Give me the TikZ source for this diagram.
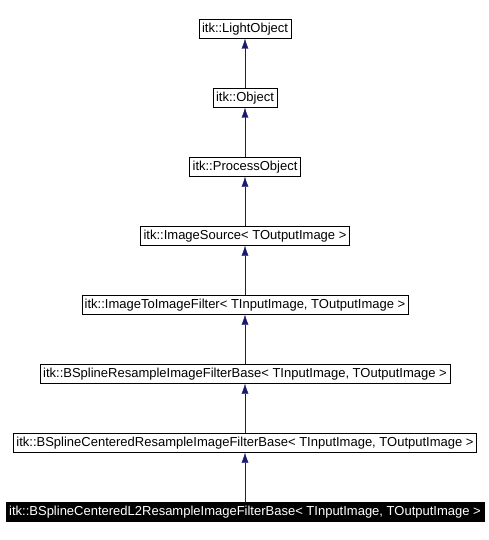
\documentclass[tikz,border=0pt]{standalone}
\usepackage{fontspec}
\setmainfont{Liberation Sans}
\usetikzlibrary{arrows.meta,positioning}
\definecolor{edgeblue}{HTML}{191970}
\begin{document}
\begin{tikzpicture}[x=1bp,y=1bp,node distance= 69bp]
      \useasboundingbox (0,0) rectangle (489,-540);
      \begin{scope}[every node/.style={draw,thin,font=\fontsize{13bp}{15bp}\selectfont,
          inner xsep=3bp,inner ysep=0pt,minimum height=19bp,text height=9.5bp,text depth=2.5bp}]
        \node (LO) at (245,-29) {itk::LightObject};
        \node (O) [below of= LO] {itk::Object};
        \node (PO) [below of= O] {itk::ProcessObject};
        \node (IS) [below of= PO] {itk::ImageSource< TOutputImage >};
        \node (IIF) [below of= IS] {itk::ImageToImageFilter< TInputImage, TOutputImage >};
        \node (BSR) [below of= IIF] {itk::BSplineResampleImageFilterBase< TInputImage, TOutputImage >};
        \node (BSC) [below of= BSR] {itk::BSplineCenteredResampleImageFilterBase< TInputImage, TOutputImage >};
        \node (BSL) [below of= BSC, fill=black, text=white] {itk::BSplineCenteredL2ResampleImageFilterBase< TInputImage, TOutputImage >};
      \end{scope}
      \begin{scope}[every path/.style={draw= edgeblue, thin, -{Latex[length=10bp,width=7bp]}}]
        \path (O) edge (LO);
        \path (PO) edge (O);
        \path (IS) edge (PO);
        \path (IIF) edge (IS);
        \path (BSR) edge (IIF);
        \path (BSC) edge (BSR);
        \path (BSL) edge (BSC);
      \end{scope}
    \end{tikzpicture}
\end{document}
